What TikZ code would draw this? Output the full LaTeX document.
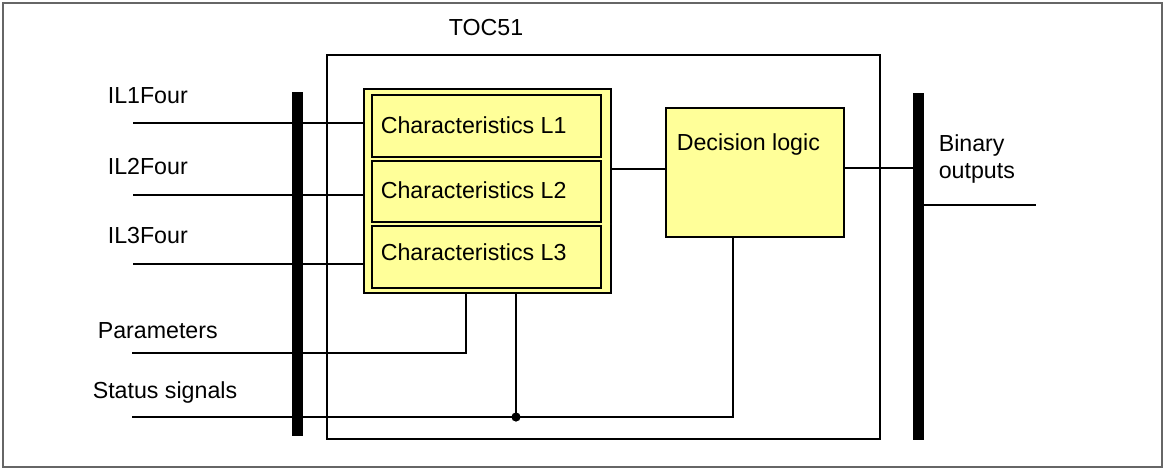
\documentclass[tikz,border=0pt]{standalone}
\usepackage{fontspec}
\setmainfont{Liberation Sans}
\begin{document}
\begin{tikzpicture}[x=1pt,y=-1pt,line width=1.6pt,
  txt/.style={inner sep=0pt,font=\fontsize{23.2}{27}\selectfont},
  lbl/.style={txt,anchor=base west},
  box/.style={draw,anchor=north west,inner sep=0pt,outer sep=0pt},
  ybox/.style={box,fill=yel,line width=2.2pt},
  bar/.style={box,fill=black,draw=none},
  wire/.style={line width=1.6pt}]
\definecolor{yel}{HTML}{FFFF99}
\useasboundingbox (0,0) rectangle (1167,472);
\draw[draw=black!60,line width=1.4pt] (3,3) rectangle (1162,467);
% main box
\node[box,line width=1.6pt,minimum width=553,minimum height=384] (toc) at (327,55) {};
\node[lbl] (toct) at (448,35) {TOC51};
% bars
\node[bar,minimum width=11,minimum height=344] (lbar) at (292,92) {};
\node[bar,minimum width=11,minimum height=347] (rbar) at (913,93) {};
% characteristics
\node[ybox,minimum width=247,minimum height=204] (yo) at (364,89) {};
\node[ybox,minimum width=229,minimum height=62] (c1) at (372,95) {};
\node[ybox,minimum width=229,minimum height=61] (c2) at (372,161) {};
\node[ybox,minimum width=229,minimum height=62] (c3) at (372,226) {};
\node[lbl] (t1) at (380,133) {Characteristics L1};
\node[lbl] (t2) at (380,198) {Characteristics L2};
\node[lbl] (t3) at (380,260) {Characteristics L3};
% decision
\node[ybox,line width=1.8pt,minimum width=178,minimum height=129] (dec) at (666,108) {};
\node[lbl] (dect) at (676,150) {Decision logic};
% labels
\node[lbl] (l1) at (107,103) {IL1Four};
\node[lbl] (l2) at (107,174) {IL2Four};
\node[lbl] (l3) at (107,243) {IL3Four};
\node[lbl] (lp) at (97,338) {Parameters};
\node[lbl] (ls) at (92,398) {Status signals};
\node[lbl] (bo1) at (938,151) {Binary};
\node[lbl] (bo2) at (938,178) {outputs};
% wires
\coordinate (s1) at (133,123);
\coordinate (s2) at (133,195);
\coordinate (s3) at (133,264);
\coordinate (sp) at (132,353);
\coordinate (ss) at (132,417);
\coordinate (mid) at (640,169);
\coordinate (bo) at (880,168);
\coordinate (out) at (1036,205);
\coordinate (pk) at (466,353);
\coordinate (jn) at (516,417);
\coordinate (dk) at (733,417);
\draw[wire] (s1) -- (s1 -| yo.west);
\draw[wire] (s2) -- (s2 -| yo.west);
\draw[wire] (s3) -- (s3 -| yo.west);
\draw[wire] (yo.east |- mid) -- (dec.west |- mid);
\draw[wire] (dec.east |- bo) -- (rbar.west |- bo);
\draw[wire] (out -| rbar.east) -- (out);
\draw[wire] (pk |- yo.south) -- (pk) -- (sp);
\draw[wire] (jn |- yo.south) -- (jn);
\draw[wire] (ss) -- (dk) -- (dk |- dec.south);
\fill (jn) circle (4.6);
\end{tikzpicture}
\end{document}
